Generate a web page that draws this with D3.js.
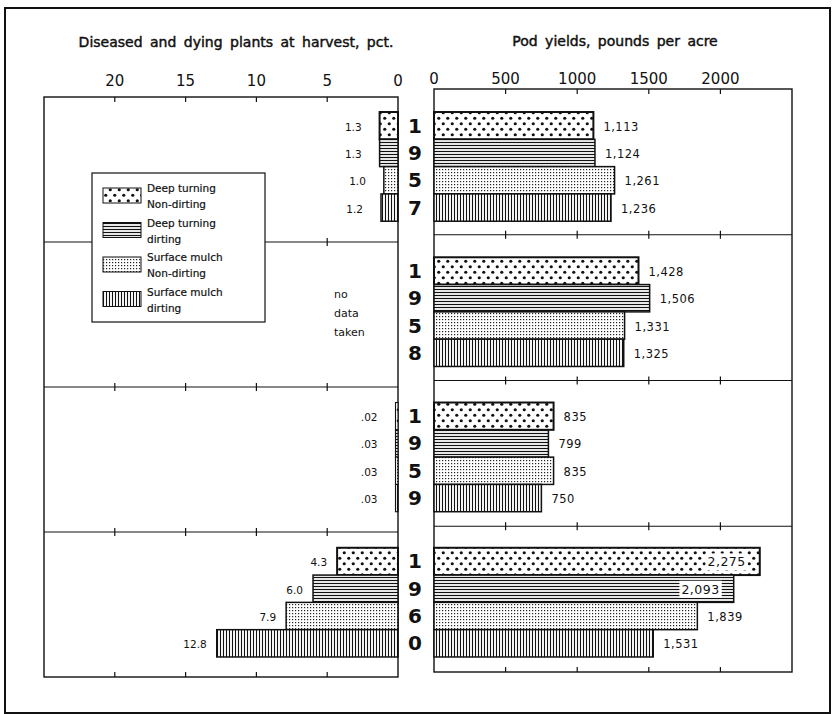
<!DOCTYPE html>
<html>
<head>
<meta charset="utf-8">
<script src="https://cdn.jsdelivr.net/npm/d3@7"></script>
<style>
  body { margin: 0; background: #fff; }
  svg { display: block; font-family: 'DejaVu Sans', sans-serif; }
</style>
</head>
<body>
<svg width="832" height="714"></svg>
<script>
// data
const years = ['1957', '1958', '1959', '1960']
const treatments = ['dtNon', 'dtDirt', 'smNon', 'smDirt']
const legendLines = [
  ['Deep turning', 'Non-dirting'],
  ['Deep turning', 'dirting'],
  ['Surface mulch', 'Non-dirting'],
  ['Surface mulch', 'dirting']
]
// diseased and dying plants, pct (1958: no data taken)
const diseased1957 = [1.3, 1.3, 1.0, 1.2]
const diseased1958 = null
const diseased1959 = [0.02, 0.03, 0.03, 0.03]
const diseased1960 = [4.3, 6.0, 7.9, 12.8]
// pod yields, pounds per acre
const yield1957 = [1113, 1124, 1261, 1236]
const yield1958 = [1428, 1506, 1331, 1325]
const yield1959 = [835, 799, 835, 750]
const yield1960 = [2275, 2093, 1839, 1531]
const diseaseTicks = [20, 15, 10, 5, 0]
const yieldTicks = [0, 500, 1000, 1500, 2000]

const diseased = [diseased1957, diseased1958, diseased1959, diseased1960]
const yields = [yield1957, yield1958, yield1959, yield1960]

const svg = d3.select('svg')

// patterns for the four treatments
const defs = svg.append('defs')
const pDots = defs.append('pattern').attr('id', 'dtNon')
  .attr('patternUnits', 'userSpaceOnUse').attr('width', 9).attr('height', 11)
pDots.append('rect').attr('width', 9).attr('height', 11).attr('fill', '#fff')
pDots.append('circle').attr('cx', 2.25).attr('cy', 2.75).attr('r', 1.6).attr('fill', '#111')
pDots.append('circle').attr('cx', 6.75).attr('cy', 8.25).attr('r', 1.6).attr('fill', '#111')

const pH = defs.append('pattern').attr('id', 'dtDirt')
  .attr('patternUnits', 'userSpaceOnUse').attr('width', 6).attr('height', 3)
pH.append('rect').attr('width', 6).attr('height', 3).attr('fill', '#fff')
pH.append('line').attr('x1', 0).attr('x2', 6).attr('y1', 1.5).attr('y2', 1.5)
  .attr('stroke', '#111').attr('stroke-width', 1.2)

const pFine = defs.append('pattern').attr('id', 'smNon')
  .attr('patternUnits', 'userSpaceOnUse').attr('width', 3).attr('height', 3)
pFine.append('rect').attr('width', 3).attr('height', 3).attr('fill', '#fff')
pFine.append('rect').attr('x', 1).attr('y', 1).attr('width', 1.2).attr('height', 1.2).attr('fill', '#222')

const pV = defs.append('pattern').attr('id', 'smDirt')
  .attr('patternUnits', 'userSpaceOnUse').attr('width', 3).attr('height', 6)
pV.append('rect').attr('width', 3).attr('height', 6).attr('fill', '#fff')
pV.append('line').attr('y1', 0).attr('y2', 6).attr('x1', 1.5).attr('x2', 1.5)
  .attr('stroke', '#111').attr('stroke-width', 1.1)

// outer frame
svg.append('rect')
  .attr('x', 5).attr('y', 8).attr('width', 825).attr('height', 705)
  .attr('fill', 'none').attr('stroke', '#111').attr('stroke-width', 2)

// scales
const xL = d3.scaleLinear().domain([0, 25]).range([398, 44])
const xR = d3.scaleLinear().domain([0, 2500]).range([434, 792])
// bars share one vertical layout, the two frames sit a little apart (as scanned)
const yGroup = d3.scaleBand().domain(years).range([94, 675])
const yBar = d3.scaleBand().domain(d3.range(4)).range([0, yGroup.bandwidth()])
  .paddingOuter(0.66).paddingInner(0)
const yFrameL = d3.scaleBand().domain(years).range([97, 677])
const yFrameR = d3.scaleBand().domain(years).range([89, 672])

function drawFrame (x, yFrame, ticks) {
  const g = svg.append('g')
  const [x0, x1] = x.range().slice().sort((a, b) => a - b)
  const [y0, y1] = yFrame.range()
  g.append('rect')
    .attr('x', x0).attr('y', y0).attr('width', x1 - x0).attr('height', y1 - y0)
    .attr('fill', 'none').attr('stroke', '#111').attr('stroke-width', 1.4)
  // group separators
  const seps = years.slice(1).map(yr => yFrame(yr))
  g.selectAll('line.sep').data(seps).enter().append('line')
    .attr('x1', x0).attr('x2', x1).attr('y1', d => d).attr('y2', d => d)
    .attr('stroke', '#111').attr('stroke-width', 1.2)
  const inner = ticks.filter(t => x(t) > x0 + 1 && x(t) < x1 - 1)
  inner.forEach(t => {
    g.append('line').attr('x1', x(t)).attr('x2', x(t)).attr('y1', y0).attr('y2', y0 + 5)
      .attr('stroke', '#111').attr('stroke-width', 1.2)
    g.append('line').attr('x1', x(t)).attr('x2', x(t)).attr('y1', y1).attr('y2', y1 - 5)
      .attr('stroke', '#111').attr('stroke-width', 1.2)
    seps.forEach(s => {
      g.append('line').attr('x1', x(t)).attr('x2', x(t)).attr('y1', s - 4).attr('y2', s + 4)
        .attr('stroke', '#111').attr('stroke-width', 1.2)
    })
  })
  return g
}

drawFrame(xL, yFrameL, diseaseTicks)
drawFrame(xR, yFrameR, yieldTicks)

// tick labels
svg.selectAll('text.tl').data(diseaseTicks).enter().append('text')
  .attr('x', d => xL(d)).attr('y', 86)
  .attr('text-anchor', 'middle').attr('font-size', 15).attr('fill', '#111')
  .text(d => d)
svg.selectAll('text.tr').data(yieldTicks).enter().append('text')
  .attr('x', d => xR(d)).attr('y', 84)
  .attr('text-anchor', 'middle').attr('font-size', 15).attr('fill', '#111')
  .text(d => d)

// titles
svg.append('text').attr('x', 236).attr('y', 47).attr('text-anchor', 'middle')
  .attr('font-size', 14).attr('fill', '#111')
  .attr('stroke', '#111').attr('stroke-width', 0.45)
  .attr('word-spacing', 3)
  .text('Diseased and dying plants at harvest, pct.')
svg.append('text').attr('x', 615).attr('y', 46).attr('text-anchor', 'middle')
  .attr('font-size', 14).attr('fill', '#111')
  .attr('stroke', '#111').attr('stroke-width', 0.45)
  .attr('word-spacing', 3)
  .text('Pod yields, pounds per acre')

const fmtPct = v => v < 1 ? String(v).replace(/^0/, '') : v.toFixed(1)
const fmtYield = d3.format(',')

years.forEach((yr, gi) => {
  const top = yGroup(yr)
  const g = svg.append('g')

  // year digit in the centre column
  treatments.forEach((t, i) => {
    g.append('text')
      .attr('x', 415).attr('y', top + yBar(i) + yBar.bandwidth() / 2 + 7)
      .attr('text-anchor', 'middle').attr('font-size', 20).attr('font-weight', 'bold')
      .attr('fill', '#111')
      .text(yr[i])
  })

  // left bars
  const dv = diseased[gi]
  if (dv) {
    dv.forEach((v, i) => {
      const w = Math.max(xL(0) - xL(v), 2.5)
      g.append('rect')
        .attr('x', xL(0) - w).attr('y', top + yBar(i))
        .attr('width', w).attr('height', yBar.bandwidth())
        .attr('fill', `url(#${treatments[i]})`)
        .attr('stroke', '#111').attr('stroke-width', w < 4 ? 1.1 : (i === 0 ? 2 : 1.5))
      const gap = v < 2 ? 18 : 10
      g.append('text')
        .attr('x', xL(0) - w - gap).attr('y', top + yBar(i) + yBar.bandwidth() / 2 + 5)
        .attr('text-anchor', 'end').attr('font-size', 10.5).attr('fill', '#111')
        .text(fmtPct(v))
    })
  } else {
    const mid = top + yGroup.bandwidth() / 2
    ;['no', 'data', 'taken'].forEach((s, k) => {
      g.append('text')
        .attr('x', 334).attr('y', mid - 14 + k * 19)
        .attr('font-size', 11).attr('fill', '#111')
        .text(s)
    })
  }

  // right bars
  yields[gi].forEach((v, i) => {
    const y = top + yBar(i)
    g.append('rect')
      .attr('x', xR(0)).attr('y', y)
      .attr('width', xR(v) - xR(0)).attr('height', yBar.bandwidth())
      .attr('fill', `url(#${treatments[i]})`)
      .attr('stroke', '#111').attr('stroke-width', i === 0 ? 2 : 1.5)
    const label = fmtYield(v)
    if (v > 2000) {
      // label sits inside the bar on a white patch
      const t = g.append('text')
        .attr('x', xR(v) - 14).attr('y', y + yBar.bandwidth() / 2 + 5)
        .attr('text-anchor', 'end').attr('font-size', 12.5).attr('fill', '#111')
        .attr('letter-spacing', 0.5)
        .text(label)
      const bb = t.node().getBBox()
      g.insert('rect', () => t.node())
        .attr('x', bb.x - 2).attr('y', bb.y - 1).attr('width', bb.width + 4).attr('height', bb.height + 2)
        .attr('fill', '#fff')
    } else {
      g.append('text')
        .attr('x', xR(v) + 10).attr('y', y + yBar.bandwidth() / 2 + 5)
        .attr('font-size', 11.5).attr('fill', '#111')
        .attr('letter-spacing', 0.5)
        .text(label)
    }
  })
})

// legend
const legend = svg.append('g')
legend.append('rect')
  .attr('x', 92).attr('y', 173).attr('width', 173).attr('height', 149)
  .attr('fill', '#fff').attr('stroke', '#111').attr('stroke-width', 1.2)
const legendY = d3.scaleBand().domain(d3.range(4)).range([180, 318])
treatments.forEach((t, i) => {
  const y = legendY(i)
  legend.append('rect')
    .attr('x', 103).attr('y', y + 8).attr('width', 38).attr('height', 15)
    .attr('fill', `url(#${t})`).attr('stroke', '#111').attr('stroke-width', 1)
  legendLines[i].forEach((s, k) => {
    legend.append('text')
      .attr('x', 147).attr('y', y + 12 + k * 16)
      .attr('font-size', 10.5).attr('fill', '#111')
      .attr('stroke', '#111').attr('stroke-width', 0.2)
      .text(s)
  })
})
</script>
</body>
</html>
